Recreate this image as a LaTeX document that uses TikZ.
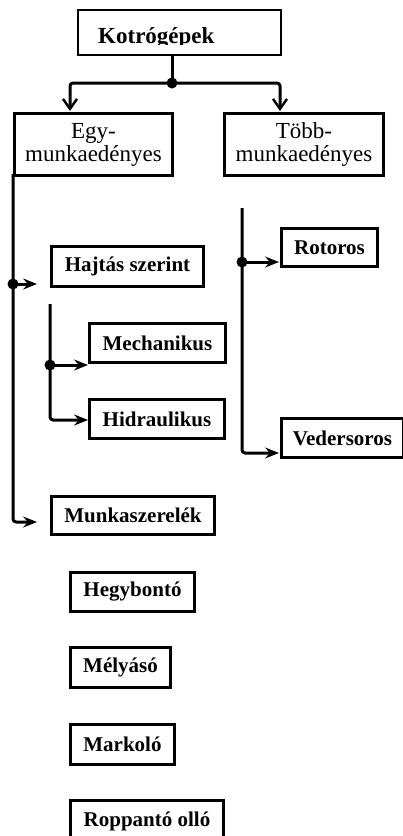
\documentclass[tikz,border=0pt]{standalone}
\usepackage{fontspec}
\setmainfont{Liberation Serif}
\usetikzlibrary{arrows.meta}
\begin{document}
\begin{tikzpicture}[x=1pt,y=-1pt,
  box/.style={draw=black,line width=3pt,inner sep=0pt,anchor=north west,align=center,
    font=\fontsize{21}{22}\selectfont\bfseries},
  tbox/.style={draw=black,line width=3pt,inner sep=0pt,anchor=north west,align=center,
    font=\fontsize{23}{23}\selectfont},
  conn/.style={line width=3pt,rounded corners=3pt,line join=round},
  sarr/.style={-{Stealth[length=14pt,width=11pt,inset=5pt]}},
  barb/.style={-{Straight Barb[length=10pt,width=14pt,line width=2.4pt]}},
  dot/.style={circle,fill=black,inner sep=0pt,minimum size=11pt}]
\useasboundingbox (0,0) rectangle (403,836);
\fill[white] (0,0) rectangle (403,836);
% boxes: corners in pixel coords
\newcommand{\bx}[6]{\node[box,minimum width=#4-#2,minimum height=#5-#3] (#1) at (#2,#3) {#6};}
% top box with clipped text
\node[draw=black,line width=2.2pt,inner sep=0pt,anchor=north west,minimum width=203,minimum height=45] (k) at (77,9) {};
\begin{scope}
\clip (77,9) rectangle (280,44.5);
\node[anchor=base west,inner sep=0pt,font=\fontsize{23}{23}\selectfont\bfseries] (kt) at (98,43) {Kotrógépek};
\end{scope}
\node[tbox,minimum width=158,minimum height=62] (egy) at (13,112) {Egy-\\munkaedényes};
\node[tbox,minimum width=159,minimum height=62] (tobb) at (223,112) {Több-\\munkaedényes};
\bx{hajtas}{50}{245}{202}{285}{Hajtás szerint}
\bx{mech}{88}{322}{224}{361}{Mechanikus}
\bx{hidr}{88}{398}{223}{437}{Hidraulikus}
\bx{rot}{280}{227}{376}{265}{Rotoros}
\bx{ved}{280}{417}{402}{456}{Vedersoros}
\bx{munka}{50}{495}{213}{533}{Munkaszerelék}
\bx{hegy}{69}{571}{193}{610}{Hegybontó}
\bx{mely}{69}{646}{169}{686}{Mélyásó}
\bx{mark}{69}{723}{173}{763}{Markoló}
\bx{ropp}{69}{799}{222}{840}{Roppantó olló}
% junction coordinates
\coordinate (j0) at (172,54);
\coordinate (j1) at (172,83);
\coordinate (egyin) at (70,111);
\coordinate (tobbin) at (280,111);
\coordinate (lt) at (13,174);
\coordinate (lj) at (13,284);
\coordinate (hajin) at (37,284);
\coordinate (lb) at (13,522);
\coordinate (munin) at (37,522);
\coordinate (it) at (50,304);
\coordinate (ij) at (50,365);
\coordinate (mechin) at (88,365);
\coordinate (ib) at (50,420);
\coordinate (hidin) at (88,420);
\coordinate (rt) at (242,208);
\coordinate (rj) at (242,262);
\coordinate (rotin) at (279,262);
\coordinate (rb) at (242,453);
\coordinate (vedin) at (279,453);
% connectors
\draw[line width=3pt] (j0) -- (j1);
\draw[conn,barb] (j1) -| (egyin);
\draw[conn,barb] (j1) -| (tobbin);
\draw[conn,sarr] (lt) |- (munin);
\draw[conn,sarr] (lj) -- (hajin);
\draw[conn,sarr] (it) |- (hidin);
\draw[conn,sarr] (ij) -- (mechin);
\draw[conn,sarr] (rt) |- (vedin);
\draw[conn,sarr] (rj) -- (rotin);
\node[dot] at (j1) {};
\node[dot] at (lj) {};
\node[dot] at (ij) {};
\node[dot] at (rj) {};
\end{tikzpicture}
\end{document}
